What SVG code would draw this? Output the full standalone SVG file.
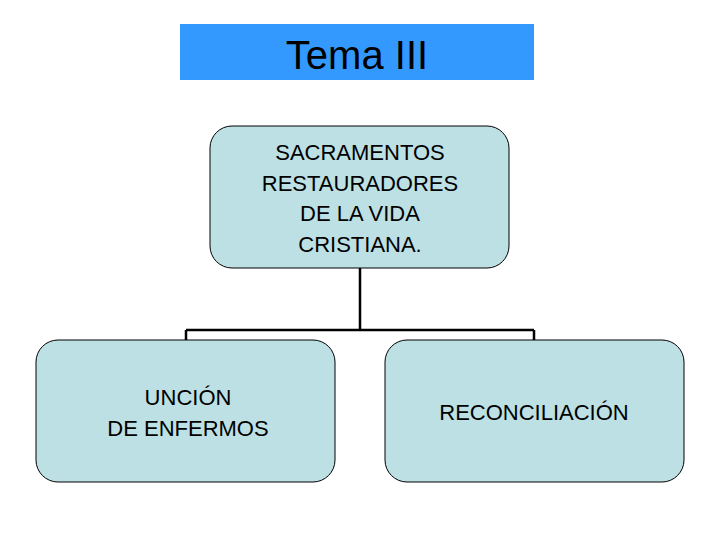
<svg xmlns="http://www.w3.org/2000/svg" width="720" height="540" viewBox="0 0 720 540">
<style>
.n{fill:#bde0e4;stroke:#000;stroke-width:1}
.t{font-family:"Liberation Sans",Arial,sans-serif;font-size:22px;fill:#000;text-anchor:middle}
.c{fill:none;stroke:#000;stroke-width:2.5}
</style>
<rect width="720" height="540" fill="#fff"/>
<g id="title"><rect x="180" y="24" width="354" height="56" fill="#3399ff"/>
<text class="t" x="357" y="69" style="font-size:40px">Tema III</text></g>
<g id="connectors">
<path class="c" d="M360 268V330M186 330H534M186 330V340M534 330V340"/>
</g>
<g id="root"><rect class="n" x="210" y="126" width="299" height="142" rx="22"/>
<text class="t" x="360" y="160">SACRAMENTOS</text>
<text class="t" x="360" y="191">RESTAURADORES</text>
<text class="t" x="360" y="221">DE LA VIDA</text>
<text class="t" x="360" y="252">CRISTIANA.</text></g>
<g id="uncion"><rect class="n" x="36" y="340" width="299" height="142" rx="22"/>
<text class="t" x="188" y="405">UNCIÓN</text>
<text class="t" x="188" y="436">DE ENFERMOS</text></g>
<g id="reconciliacion"><rect class="n" x="385" y="340" width="299" height="142" rx="22"/>
<text class="t" x="534" y="420">RECONCILIACIÓN</text></g>
</svg>
